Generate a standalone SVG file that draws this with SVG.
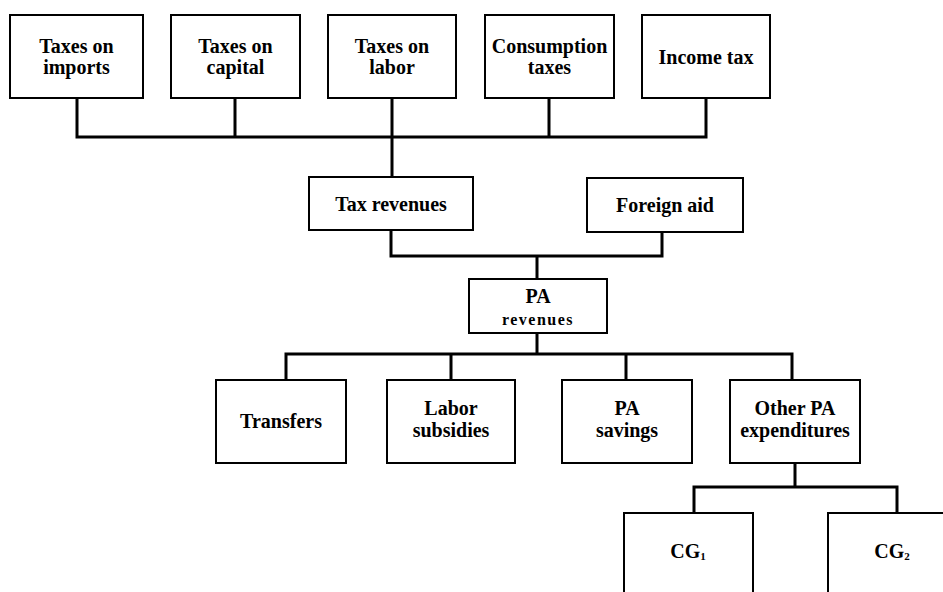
<svg xmlns="http://www.w3.org/2000/svg" width="943" height="592" viewBox="0 0 943 592">
  <style>
    .box { fill: #fff; stroke: #000; stroke-width: 2; }
    .lbl { font-family: "Liberation Serif", "Times New Roman", serif; font-weight: bold; font-size: 20px; fill: #000; text-anchor: middle; }
    .sm { font-size: 16px; letter-spacing: 1.5px; }
    .wire { fill: none; stroke: #000; stroke-width: 3; stroke-linejoin: miter; }
  </style>
  <rect width="943" height="592" fill="#fff"/>

  <!-- connectors -->
  <g id="connectors">
    <path class="wire" d="M77,98 V137 H706 V98 M235,98 V137 M392,98 V178 M549,98 V137"/>
    <path class="wire" d="M391,230 V256 H662 V232 M537,256 V279"/>
    <path class="wire" d="M537,333 V354 M286,380 V354 H792 V380 M451,354 V380 M626,354 V380"/>
    <path class="wire" d="M795,463 V487 M694,513 V487 H897 V513"/>
  </g>

  <!-- tax sources -->
  <g id="taxes-imports">
    <rect class="box" x="10" y="15" width="133" height="83"/>
    <text class="lbl" x="76.5" y="52.5">Taxes on</text>
    <text class="lbl" x="76.5" y="73.5">imports</text>
  </g>
  <g id="taxes-capital">
    <rect class="box" x="171" y="15" width="129" height="83"/>
    <text class="lbl" x="235.5" y="52.5">Taxes on</text>
    <text class="lbl" x="235.5" y="73.5">capital</text>
  </g>
  <g id="taxes-labor">
    <rect class="box" x="328" y="15" width="128" height="83"/>
    <text class="lbl" x="392" y="52.5">Taxes on</text>
    <text class="lbl" x="392" y="73.5">labor</text>
  </g>
  <g id="consumption-taxes">
    <rect class="box" x="485" y="15" width="129" height="83"/>
    <text class="lbl" x="549.5" y="52.5">Consumption</text>
    <text class="lbl" x="549.5" y="73.5">taxes</text>
  </g>
  <g id="income-tax">
    <rect class="box" x="642" y="15" width="128" height="83"/>
    <text class="lbl" x="706" y="64">Income tax</text>
  </g>

  <!-- revenue sources -->
  <g id="tax-revenues">
    <rect class="box" x="309" y="177" width="164" height="53"/>
    <text class="lbl" x="391" y="211">Tax revenues</text>
  </g>
  <g id="foreign-aid">
    <rect class="box" x="587" y="178" width="156" height="54"/>
    <text class="lbl" x="665" y="212">Foreign aid</text>
  </g>

  <g id="pa-revenues">
    <rect class="box" x="469" y="279" width="138" height="54"/>
    <text class="lbl" x="538" y="303">PA</text>
    <text class="lbl sm" x="538" y="325">revenues</text>
  </g>

  <!-- uses -->
  <g id="transfers">
    <rect class="box" x="216" y="380" width="130" height="83"/>
    <text class="lbl" x="281" y="428">Transfers</text>
  </g>
  <g id="labor-subsidies">
    <rect class="box" x="387" y="380" width="128" height="83"/>
    <text class="lbl" x="451" y="415">Labor</text>
    <text class="lbl" x="451" y="437">subsidies</text>
  </g>
  <g id="pa-savings">
    <rect class="box" x="562" y="380" width="130" height="83"/>
    <text class="lbl" x="627" y="415">PA</text>
    <text class="lbl" x="627" y="437">savings</text>
  </g>
  <g id="other-pa-expenditures">
    <rect class="box" x="730" y="380" width="130" height="83"/>
    <text class="lbl" x="795" y="415">Other PA</text>
    <text class="lbl" x="795" y="437">expenditures</text>
  </g>

  <g id="cg1">
    <rect class="box" x="624" y="513" width="129" height="100"/>
    <text class="lbl" x="688" y="558">CG<tspan font-size="11" dy="2">1</tspan></text>
  </g>
  <g id="cg2">
    <rect class="box" x="828" y="513" width="129" height="100"/>
    <text class="lbl" x="892" y="558">CG<tspan font-size="11" dy="2">2</tspan></text>
  </g>
</svg>
